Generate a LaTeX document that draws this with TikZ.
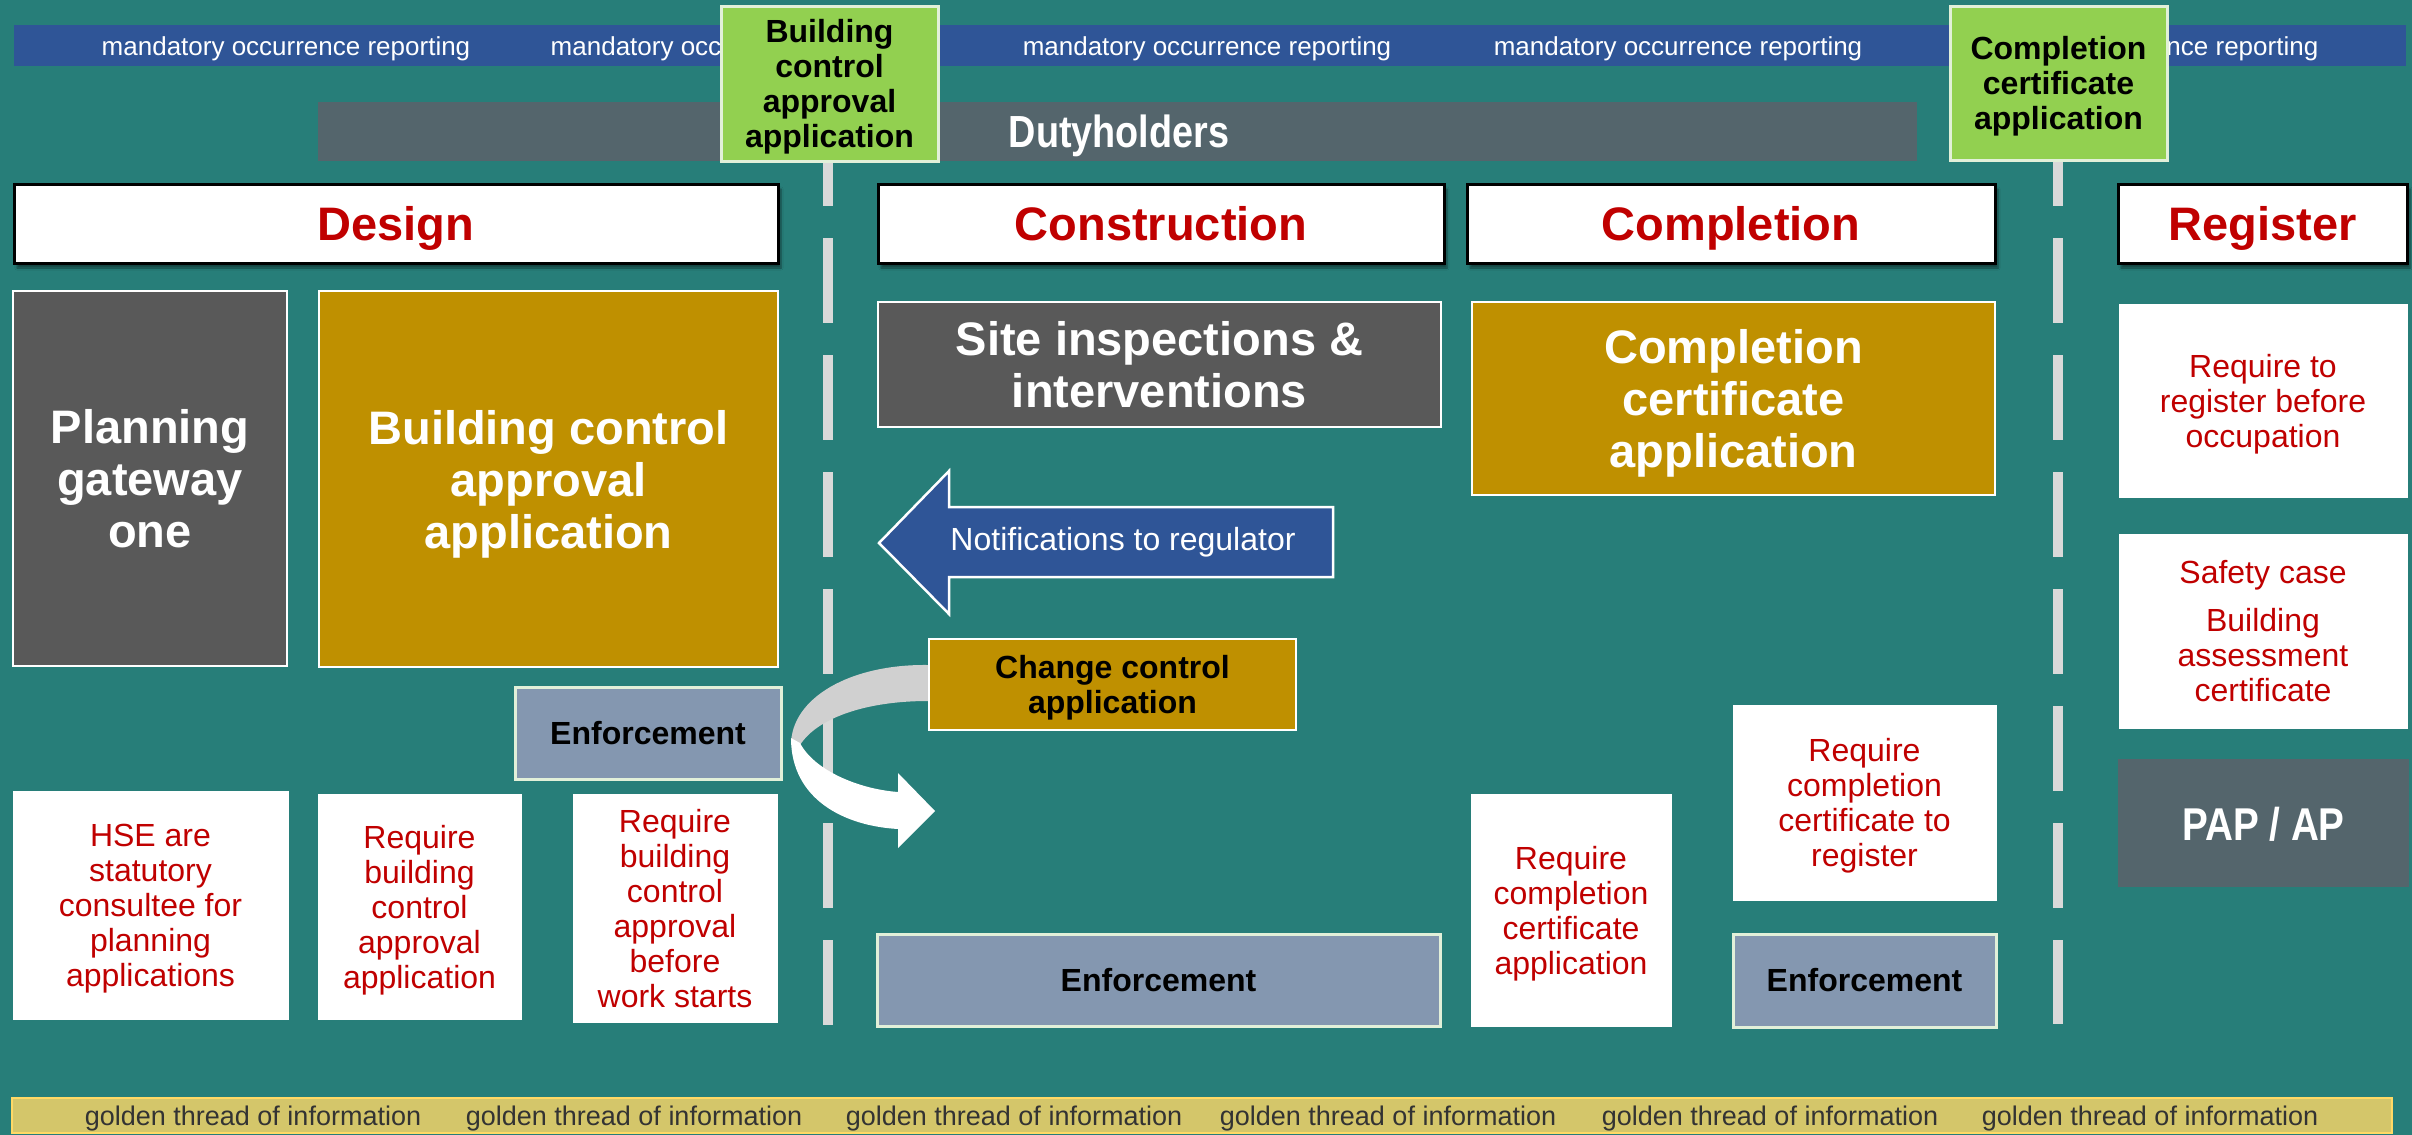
\documentclass[tikz,border=0pt]{standalone}
\usepackage{fontspec}
\setmainfont{Liberation Sans}
\newfontfamily\narrowsf[FakeStretch=0.84]{Liberation Sans}
\usepackage{xcolor}
\usepackage{tikz}
\usetikzlibrary{shadows.blur}
\usetikzlibrary{calc}

\definecolor{bgTeal}{RGB}{39,126,121}
\definecolor{morBlue}{RGB}{47,85,151}
\definecolor{gateGreen}{RGB}{146,208,80}
\definecolor{gateEdge}{RGB}{226,240,217}
\definecolor{dutySlate}{RGB}{84,101,108}
\definecolor{hdRed}{RGB}{192,0,0}
\definecolor{boxGrey}{RGB}{89,89,89}
\definecolor{boxGold}{RGB}{191,144,0}
\definecolor{enfBlue}{RGB}{132,151,176}
\definecolor{sepGrey}{RGB}{217,217,217}
\definecolor{threadGold}{RGB}{212,198,106}
\definecolor{threadEdge}{RGB}{255,217,102}
\definecolor{ribbonGrey}{RGB}{208,208,208}

\tikzset{
  band/.style={inner sep=0pt, outer sep=0pt},
  morlbl/.style={text=white, inner sep=1pt, text height=19pt, text depth=0pt, font=\fontsize{26}{30}\selectfont},
  threadlbl/.style={text=black!80, inner sep=1pt, text height=20pt, text depth=0pt, font=\fontsize{27}{30}\selectfont},
  gate/.style={draw=gateEdge, line width=3pt, fill=gateGreen, inner sep=2pt, align=center, text depth=0pt,
    font=\fontsize{32}{35}\selectfont\bfseries},
  hdr/.style={draw=black, line width=3pt, fill=white, text=hdRed, inner sep=2pt,
    text height=33pt, text depth=0pt, font=\fontsize{47}{52}\selectfont\bfseries,
    blur shadow={shadow xshift=3pt, shadow yshift=-5pt, shadow opacity=45, shadow blur steps=6}},
  bigbox/.style={draw=white, line width=2.5pt, fill=boxGrey, text=white, inner sep=2pt,
    align=center, text depth=0pt, font=\fontsize{47}{52}\selectfont\bfseries},
  goldbox/.style={bigbox, fill=boxGold},
  notebox/.style={draw=white, line width=1pt, fill=white, text=hdRed, inner sep=2pt,
    align=center, text depth=0pt, font=\fontsize{32}{35}\selectfont},
  enfbox/.style={draw=gateEdge, line width=3pt, fill=enfBlue, text=black, inner sep=2pt,
    font=\fontsize{32}{35}\selectfont\bfseries},
  sepline/.style={draw=sepGrey, line width=10pt, dash pattern=on 85pt off 32pt, dash phase=39pt},
}

\begin{document}
\begin{tikzpicture}[x=1pt,y=1pt,yscale=-1,xscale=1]
\useasboundingbox (0,0) rectangle (2412,1135);
\fill[bgTeal] (0,0) rectangle (2412,1135);

%Shape: Rectangle (reporting band)
\node[band, fill=morBlue, minimum width=2392pt, minimum height=41pt] (morband) at (1210,45.5) {};
\foreach \x [count=\i] in {286,735,1207,1678,2134}
  \node[morlbl] (mor\i) at (\x,45.5) {mandatory occurrence reporting};

%Shape: Rectangle (golden thread)
\node[band, draw=threadEdge, line width=2pt, fill=threadGold, minimum width=2380pt, minimum height=35pt] (thread) at (1202,1115.5) {};
\foreach \x [count=\i] in {253,634,1014,1388,1770,2150}
  \node[threadlbl] (thr\i) at (\x,1115) {golden thread of information};

%Shape: Rectangle (dutyholders)
\node[band, fill=dutySlate, minimum width=1599pt, minimum height=59pt] (duty) at (1117.5,131.5) {};
\node[text=white, text height=32pt, text depth=0pt, font=\fontsize{45}{50}\selectfont\narrowsf\bfseries] (dutylbl) at (1119,131) {Dutyholders};

%Straight Lines (stage separators)
\draw[sepline] (828,160) -- (828,1026);
\draw[sepline] (2058,160) -- (2058,1024);

% Headers
\node[hdr, minimum width=764pt, minimum height=79pt] (design) at (396,223.5) {Design};
\node[hdr, minimum width=566pt, minimum height=79pt] (constr) at (1161,223.5) {Construction};
\node[hdr, minimum width=528pt, minimum height=79pt] (complet) at (1731,223.5) {Completion};
\node[hdr, minimum width=289pt, minimum height=79pt] (register) at (2262.5,223.5) {Register};

% Design column
\node[bigbox, minimum width=274pt, minimum height=375pt] (plan) at (150,478.5) {Planning\\gateway\\one};
\node[goldbox, minimum width=459pt, minimum height=376pt] (bcaa) at (548.5,479) {Building control\\approval\\application};
\node[enfbox, minimum width=266pt, minimum height=92pt] (enfD) at (648,733) {Enforcement};
\node[notebox, minimum width=275pt, minimum height=228pt] (hse) at (150.5,905) {HSE are\\statutory\\consultee for\\planning\\applications};
\node[notebox, minimum width=203pt, minimum height=225pt] (reqbca) at (419.5,906.5) {Require\\building\\control\\approval\\application};
\node[notebox, minimum width=204pt, minimum height=228pt] (reqbefore) at (675,908) {Require\\building\\control\\approval\\before\\work starts};

% Construction column
\node[bigbox, minimum width=563pt, minimum height=125pt] (site) at (1159.5,364.5) {Site inspections \&\\interventions};
\draw[fill=morBlue, draw=white, line width=2.5pt] (879,543) -- (949,471) -- (949,507) -- (1333,507) -- (1333,577) -- (949,577) -- (949,614) -- cycle;
\node[text=white, font=\fontsize{32}{35}\selectfont] (notif) at (1123,542) {Notifications to regulator};
\node[goldbox, text=black, font=\fontsize{32}{35}\selectfont\bfseries, minimum width=367pt, minimum height=91pt] (chg) at (1112.5,684.5) {Change control\\application};
\node[enfbox, minimum width=563pt, minimum height=92pt] (enfC) at (1158.5,980) {Enforcement};

%Curve Lines (change control ribbon)
\coordinate (ribTop) at ($(chg.west)+(0,-19.5)$);
\coordinate (ribBot) at ($(chg.west)+(0,16.5)$);
\coordinate (ribTip) at (935,811);
\fill[ribbonGrey] (ribTop) .. controls (850,664) and (791,698) .. (791,745) -- (800,745) .. controls (818,717) and (868,701) .. (ribBot) -- cycle;
\fill[white] (791,738) .. controls (791,800) and (845,826) .. (898,829) -- (898,848) -- (ribTip) -- (898,773) -- (898,792) .. controls (858,789) and (814,770) .. (800,743) -- cycle;

% Completion column
\node[goldbox, minimum width=523pt, minimum height=193pt] (ccab) at (1733.5,398.5) {Completion\\certificate\\application};
\node[notebox, minimum width=200pt, minimum height=232pt] (reqcca) at (1571,910) {Require\\completion\\certificate\\application};
\node[notebox, minimum width=263pt, minimum height=195pt] (reqreg) at (1864.5,802.5) {Require\\completion\\certificate to\\register};
\node[enfbox, minimum width=263pt, minimum height=93pt] (enfCo) at (1864.5,980.5) {Enforcement};

% Register column
\node[notebox, minimum width=288pt, minimum height=193pt] (reqocc) at (2263,400.5) {Require to\\register before\\occupation};
\node[notebox, minimum width=288pt, minimum height=194pt] (safety) at (2263,631) {Safety case\\[13pt]Building\\assessment\\certificate};
\node[band, fill=dutySlate, text=white, text height=34pt, text depth=0pt, font=\fontsize{46}{50}\selectfont\narrowsf\bfseries, minimum width=291pt, minimum height=128pt] (pap) at (2263.5,823) {PAP / AP};

% Gateway boxes
\node[gate, minimum width=217pt, minimum height=155pt] (gateA) at (829.5,83.5) {Building\\control\\approval\\application};
\node[gate, minimum width=217pt, minimum height=154pt] (gateB) at (2058.5,83) {Completion\\certificate\\application};

\end{tikzpicture}
\end{document}
